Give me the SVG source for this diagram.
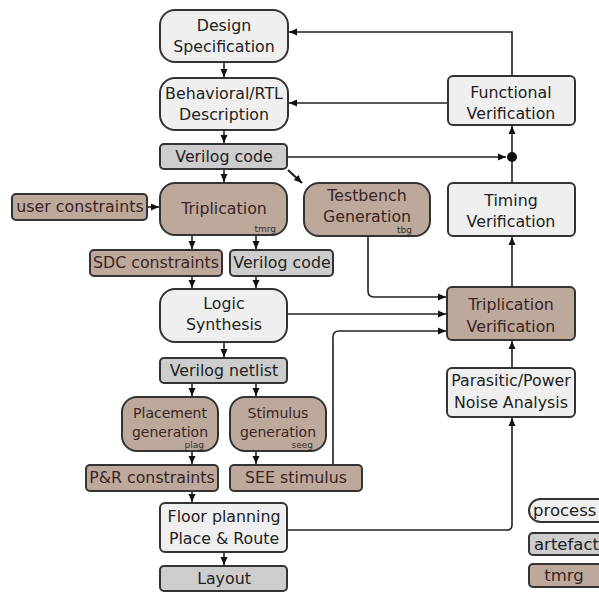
<svg xmlns="http://www.w3.org/2000/svg" width="599" height="592" viewBox="0 0 599 592">
<defs>
<style>
rect{stroke:#333;stroke-width:2}
rect.bg{fill:#fff;stroke:none}
.p{fill:#efefef}
.a{fill:#cdcdcd}
.t{fill:#bda99c}
text{font-family:"DejaVu Sans","Liberation Sans",sans-serif;font-size:15.8px;fill:#222;text-anchor:middle}
.tt text{fill:#3a2424}
text.s{font-size:9px;text-anchor:end;fill:#333}
text.g{font-size:14px}
#connectors path,#connectors line{fill:none;stroke:#222;stroke-width:1.6}
</style>
<marker id="ar" markerUnits="userSpaceOnUse" markerWidth="8" markerHeight="8" refX="8" refY="4" orient="auto">
<path d="M0,0.5 L8,4 L0,7.5 z" fill="#111"/>
</marker>
</defs>
<rect class="bg" x="0" y="0" width="599" height="592"/>

<g id="connectors">
<line x1="224" y1="62" x2="224" y2="77" marker-end="url(#ar)"/>
<line x1="224" y1="130" x2="224" y2="143" marker-end="url(#ar)"/>
<line x1="224" y1="169" x2="224" y2="182" marker-end="url(#ar)"/>
<line x1="147" y1="207" x2="159" y2="207" marker-end="url(#ar)"/>
<line x1="192" y1="235" x2="192" y2="249" marker-end="url(#ar)"/>
<line x1="256" y1="235" x2="256" y2="249" marker-end="url(#ar)"/>
<line x1="192" y1="276" x2="192" y2="288" marker-end="url(#ar)"/>
<line x1="256" y1="276" x2="256" y2="288" marker-end="url(#ar)"/>
<line x1="224" y1="342" x2="224" y2="357" marker-end="url(#ar)"/>
<line x1="192" y1="383" x2="192" y2="396" marker-end="url(#ar)"/>
<line x1="256" y1="383" x2="256" y2="396" marker-end="url(#ar)"/>
<line x1="192" y1="451" x2="192" y2="464" marker-end="url(#ar)"/>
<line x1="256" y1="451" x2="256" y2="464" marker-end="url(#ar)"/>
<line x1="192" y1="491" x2="192" y2="502" marker-end="url(#ar)"/>
<line x1="224" y1="552" x2="224" y2="565" marker-end="url(#ar)"/>
<line x1="287" y1="157" x2="506" y2="157" marker-end="url(#ar)"/>
<line x1="288" y1="170" x2="302" y2="183" marker-end="url(#ar)" style="stroke-width:2.2"/>
<line x1="512" y1="183" x2="512" y2="126" marker-end="url(#ar)"/>
<path d="M512,76 V32 H289" marker-end="url(#ar)"/>
<line x1="448" y1="103" x2="289" y2="103" marker-end="url(#ar)"/>
<path d="M368,236 V291 Q368,297 374,297 H446" marker-end="url(#ar)"/>
<line x1="287" y1="314" x2="446" y2="314" marker-end="url(#ar)"/>
<path d="M333,465 V337 Q333,331 339,331 H446" marker-end="url(#ar)"/>
<line x1="512" y1="287" x2="512" y2="237" marker-end="url(#ar)"/>
<line x1="512" y1="368" x2="512" y2="341" marker-end="url(#ar)"/>
<path d="M287,530 H507 Q512,530 512,525 V418" marker-end="url(#ar)"/>
<circle cx="512" cy="157" r="5" fill="#111"/>
</g>

<g id="design"><rect class="p" x="160" y="10" width="128" height="52" rx="15"/><text x="224" y="31">Design</text><text x="224" y="52">Specification</text></g>
<g id="rtl"><rect class="p" x="160" y="78" width="128" height="52" rx="15"/><text x="224" y="99">Behavioral/RTL</text><text x="224" y="120">Description</text></g>
<g id="vcode1"><rect class="a" x="160" y="144" width="127" height="25" rx="4"/><text x="224" y="162">Verilog code</text></g>
<g id="userc" class="tt"><rect class="t" x="12" y="194" width="135" height="26" rx="4"/><text x="80" y="212">user constraints</text></g>
<g id="triplication" class="tt"><rect class="t" x="160" y="183" width="127" height="52" rx="15"/><text x="224" y="214">Triplication</text><text class="s" x="276" y="232">tmrg</text></g>
<g id="sdc" class="tt"><rect class="t" x="90" y="250" width="132" height="26" rx="4"/><text x="156" y="268">SDC constraints</text></g>
<g id="vcode2"><rect class="a" x="230" y="250" width="103" height="26" rx="4"/><text x="282" y="268">Verilog code</text></g>
<g id="logic"><rect class="p" x="160" y="289" width="127" height="53" rx="15"/><text x="224" y="309">Logic</text><text x="224" y="330">Synthesis</text></g>
<g id="netlist"><rect class="a" x="160" y="358" width="127" height="25" rx="4"/><text x="224" y="376">Verilog netlist</text></g>
<g id="placement" class="tt"><rect class="t" x="122" y="397" width="96" height="54" rx="15"/><text class="g" x="170" y="418">Placement</text><text class="g" x="170" y="437">generation</text><text class="s" x="204" y="448">plag</text></g>
<g id="stimgen" class="tt"><rect class="t" x="230" y="397" width="96" height="54" rx="15"/><text class="g" x="278" y="418">Stimulus</text><text class="g" x="278" y="437">generation</text><text class="s" x="313" y="448">seeg</text></g>
<g id="prc" class="tt"><rect class="t" x="86" y="465" width="132" height="26" rx="4"/><text x="152" y="483">P&amp;R constraints</text></g>
<g id="see" class="tt"><rect class="t" x="230" y="465" width="132" height="26" rx="4"/><text x="296" y="483">SEE stimulus</text></g>
<g id="floor"><rect class="p" x="160" y="503" width="127" height="49" rx="5"/><text x="224" y="522">Floor planning</text><text x="224" y="544">Place &amp; Route</text></g>
<g id="layout"><rect class="a" x="160" y="566" width="127" height="25" rx="4"/><text x="224" y="584">Layout</text></g>
<g id="funcver"><rect class="p" x="448" y="76" width="127" height="49" rx="5"/><text x="511" y="98">Functional</text><text x="511" y="119">Verification</text></g>
<g id="tbg" class="tt"><rect class="t" x="304" y="183" width="126" height="53" rx="15"/><text x="367" y="201">Testbench</text><text x="367" y="222">Generation</text><text class="s" x="412" y="233">tbg</text></g>
<g id="timing"><rect class="p" x="448" y="183" width="127" height="53" rx="5"/><text x="511" y="206">Timing</text><text x="511" y="227">Verification</text></g>
<g id="tver" class="tt"><rect class="t" x="447" y="287" width="128" height="53" rx="5"/><text x="511" y="310">Triplication</text><text x="511" y="332">Verification</text></g>
<g id="parasitic"><rect class="p" x="447" y="368" width="128" height="49" rx="5"/><text x="511" y="386">Parasitic/Power</text><text x="511" y="408">Noise Analysis</text></g>

<g id="legend-process"><rect class="p" x="529" y="499" width="84" height="23" rx="11.5"/><text x="533" y="516" style="text-anchor:start;font-size:16.5px">process</text></g>
<g id="legend-artefact"><rect class="a" x="529" y="533" width="84" height="22" rx="4"/><text x="534" y="550" style="text-anchor:start;font-size:16.5px">artefact</text></g>
<g id="legend-tmrg" class="tt"><rect class="t" x="529" y="564" width="84" height="23" rx="4"/><text x="564" y="581" style="font-size:16.5px">tmrg</text></g>
</svg>
